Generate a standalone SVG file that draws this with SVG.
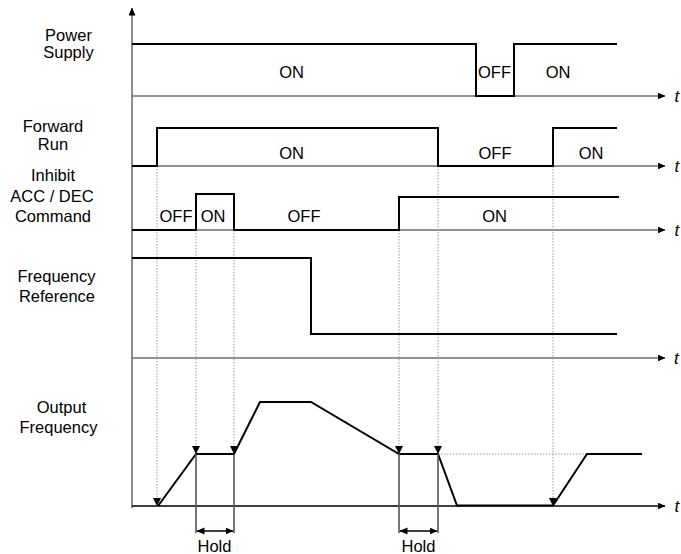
<svg xmlns="http://www.w3.org/2000/svg" width="681" height="554" viewBox="0 0 681 554">
<style>
.lbl{font-family:"Liberation Sans",Arial,sans-serif;font-size:16.5px;fill:#000;text-anchor:middle}
.t{font-family:"Liberation Sans",Arial,sans-serif;font-size:17px;font-style:italic;fill:#000}
.axis{stroke:#6e6e6e;stroke-width:1.6;fill:none}
.sig{stroke:#000;stroke-width:2;fill:none;stroke-linejoin:miter}
.dot{stroke:#9a9a9a;stroke-width:1;fill:none;stroke-dasharray:1.5 1.5}
.hold{stroke:#555;stroke-width:1.6;fill:none}
.tri{fill:#000}
</style>
<defs>
<marker id="ah" markerWidth="8" markerHeight="8" refX="7.5" refY="3.5" orient="auto" markerUnits="userSpaceOnUse">
<path d="M0,0 L8,3.5 L0,7 Z" fill="#000"/>
</marker>
<marker id="hh" markerWidth="8" markerHeight="8" refX="7.5" refY="3.5" orient="auto-start-reverse" markerUnits="userSpaceOnUse">
<path d="M0,0 L8,3.5 L0,7 Z" fill="#000"/>
</marker>
</defs>

<g id="axes">
<line class="axis" x1="132" y1="508" x2="132" y2="8" marker-end="url(#ah)"/>
<line class="axis" x1="132" y1="96" x2="665" y2="96" marker-end="url(#ah)"/>
<line class="axis" x1="132" y1="166" x2="665" y2="166" marker-end="url(#ah)"/>
<line class="axis" x1="132" y1="230" x2="665" y2="230" marker-end="url(#ah)"/>
<line class="axis" x1="132" y1="358" x2="665" y2="358" marker-end="url(#ah)"/>
<line x1="132" y1="506" x2="665" y2="506" stroke="#000" stroke-width="1.6" marker-end="url(#ah)"/>
<text class="t" x="674.5" y="102">t</text>
<text class="t" x="674.5" y="172">t</text>
<text class="t" x="674.5" y="236">t</text>
<text class="t" x="674" y="364">t</text>
<text class="t" x="674.5" y="512">t</text>
</g>

<g id="labels">
<text class="lbl" x="68.5" y="40.5">Power</text>
<text class="lbl" x="68.5" y="57.5">Supply</text>
<text class="lbl" x="53" y="132">Forward</text>
<text class="lbl" x="53" y="150">Run</text>
<text class="lbl" x="53" y="180.5">Inhibit</text>
<text class="lbl" x="52" y="202">ACC / DEC</text>
<text class="lbl" x="53" y="221.5">Command</text>
<text class="lbl" x="56.5" y="282">Frequency</text>
<text class="lbl" x="57" y="301.5">Reference</text>
<text class="lbl" x="61.5" y="413">Output</text>
<text class="lbl" x="58.5" y="432.5">Frequency</text>
</g>

<g id="connectors">
<line class="dot" x1="157" y1="166" x2="157" y2="498"/>
<line class="dot" x1="196" y1="230" x2="196" y2="446"/>
<line class="dot" x1="234" y1="230" x2="234" y2="446"/>
<line class="dot" x1="399" y1="230" x2="399" y2="446"/>
<line class="dot" x1="438" y1="166" x2="438" y2="446"/>
<line class="dot" x1="553" y1="166" x2="553" y2="498"/>
<line class="dot" x1="438" y1="454" x2="587" y2="454"/>
</g>

<g id="power-supply">
<polyline class="sig" points="132,44 476,44 476,96 514,96 514,44 617,44"/>
<text class="lbl" x="291.5" y="77.5">ON</text>
<text class="lbl" x="494.5" y="77.5">OFF</text>
<text class="lbl" x="558" y="77.5">ON</text>
</g>

<g id="forward-run">
<polyline class="sig" points="132,166 157,166 157,128 438,128 438,166 553,166 553,128 617,128"/>
<text class="lbl" x="291.5" y="158.5">ON</text>
<text class="lbl" x="495" y="158.5">OFF</text>
<text class="lbl" x="591" y="158.5">ON</text>
</g>

<g id="inhibit">
<polyline class="sig" points="132,230 196,230 196,194 234,194 234,230 399,230 399,197 619,197"/>
<text class="lbl" x="176" y="222">OFF</text>
<text class="lbl" x="213" y="222">ON</text>
<text class="lbl" x="304" y="222">OFF</text>
<text class="lbl" x="494.5" y="222">ON</text>
</g>

<g id="frequency-reference">
<polyline class="sig" points="132,258 311,258 311,334 617,334"/>
</g>

<g id="output-frequency">
<polyline class="sig" points="158,506 196,454 234,454 260,402 311,402 399,454 438,454 457,505.5 553,505.5 587,454 642,454"/>
<path class="tri" d="M153,498 L161,498 L157,506 Z"/>
<path class="tri" d="M192,446 L200,446 L196,454 Z"/>
<path class="tri" d="M230,446 L238,446 L234,454 Z"/>
<path class="tri" d="M395,446 L403,446 L399,454 Z"/>
<path class="tri" d="M434,446 L442,446 L438,454 Z"/>
<path class="tri" d="M549,498 L557,498 L553,506 Z"/>
</g>

<g id="hold-1">
<line class="hold" x1="196" y1="454" x2="196" y2="533"/>
<line class="hold" x1="234" y1="454" x2="234" y2="533"/>
<line x1="197" y1="531" x2="233" y2="531" stroke="#000" stroke-width="1.6" marker-start="url(#hh)" marker-end="url(#hh)"/>
<text class="lbl" x="214.5" y="552">Hold</text>
</g>

<g id="hold-2">
<line class="hold" x1="399" y1="454" x2="399" y2="533"/>
<line class="hold" x1="438" y1="454" x2="438" y2="533"/>
<line x1="400" y1="531" x2="437" y2="531" stroke="#000" stroke-width="1.6" marker-start="url(#hh)" marker-end="url(#hh)"/>
<text class="lbl" x="418.5" y="552">Hold</text>
</g>
</svg>
